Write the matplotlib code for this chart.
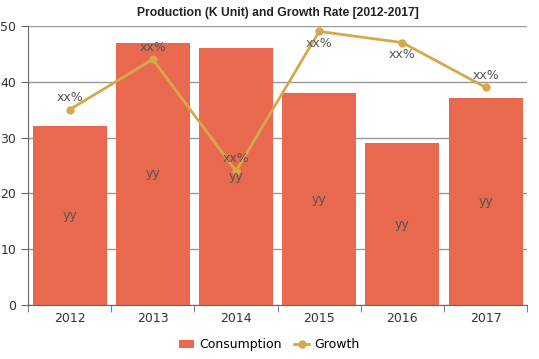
import numpy as np
import matplotlib.pyplot as plt

years = ["2012", "2013", "2014", "2015", "2016", "2017"]
consumption = [32, 47, 46, 38, 29, 37]
growth = [35, 44, 24, 49, 47, 39]

bar_color = "#E8694E"
line_color = "#D4A84B"

fig = plt.figure(figsize=(5.39, 3.59), dpi=100)
ax = fig.add_axes([0.052, 0.150, 0.926, 0.778])

x = np.arange(len(years))
bars = ax.bar(x, consumption, width=0.89, color=bar_color, label="Consumption", zorder=2)
line, = ax.plot(x, growth, color=line_color, lw=2, marker="o", ms=5, label="Growth", zorder=3)

for xi, v in zip(x, consumption):
    ax.text(xi, v / 2, "yy", ha="center", va="center", fontsize=9, color="#555555", zorder=4)
for xi, v in zip(x, growth):
    # labels near the top sit under the point
    if v > 45:
        ax.text(xi, v - 1.0, "xx%", ha="center", va="top", fontsize=9, color="#555555", zorder=4)
    else:
        ax.text(xi, v + 1.0, "xx%", ha="center", va="bottom", fontsize=9, color="#555555", zorder=4)

ax.set_xlim(-0.5, len(years) - 0.5)
ax.set_ylim(0, 50)
ax.set_yticks(range(0, 51, 10))
ax.set_xticks(x)
ax.set_xticklabels(years)
ax.set_xticks(np.arange(-0.5, len(years), 1), minor=True)
ax.tick_params(axis="x", which="major", length=0, labelsize=9, colors="#333333", pad=5)
ax.tick_params(axis="x", which="minor", length=5, color="#666666")
ax.tick_params(axis="y", length=5, color="#666666", labelsize=9, labelcolor="#333333")
ax.grid(axis="y", color="#999999", lw=1, zorder=0)
for s in ["top", "right"]:
    ax.spines[s].set_visible(False)
for s in ["left", "bottom"]:
    ax.spines[s].set_color("#666666")

ax.set_title("Production (K Unit) and Growth Rate [2012-2017]", fontsize=8.7,
             fontweight="bold", family="Liberation Sans",
             color="#222222", pad=7)

fig.legend([bars, line], ["Consumption", "Growth"], loc="lower center", ncol=2,
           frameon=False, fontsize=9, bbox_to_anchor=(0.5, -0.01), handlelength=1.2,
           columnspacing=1.0, handletextpad=0.4)

fig.savefig("out.png", dpi=100)
